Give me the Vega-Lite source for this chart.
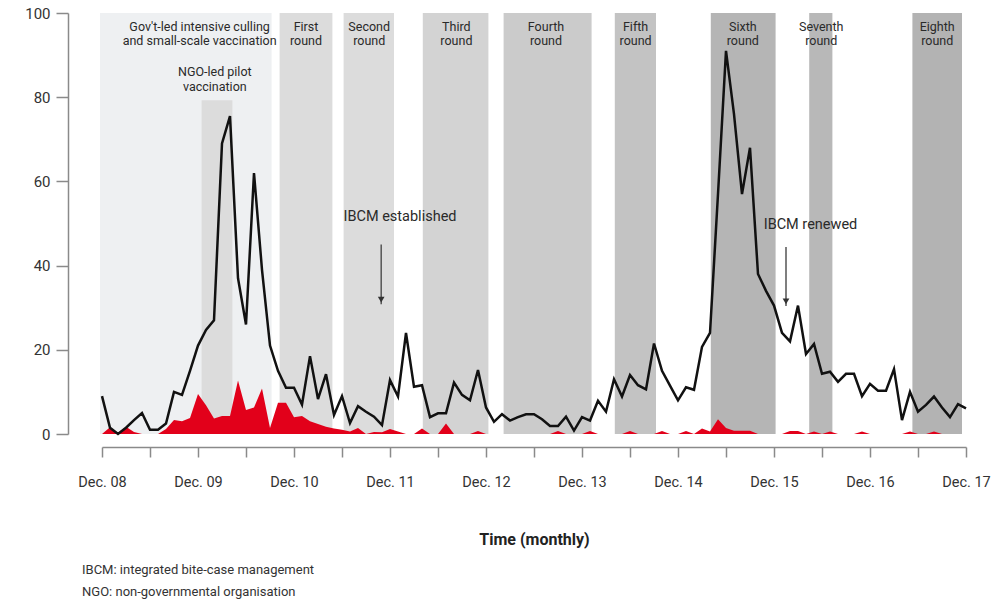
{
  "$schema": "https://vega.github.io/schema/vega-lite/v6.json",
  "width": 864,
  "height": 421,
  "autosize": {"type": "none"},
  "padding": {"left": 102, "top": 13, "right": 37, "bottom": 166},
  "background": "white",
  "title": {
    "text": ["IBCM: integrated bite-case management", "NGO:  non-governmental organisation"],
    "orient": "bottom",
    "anchor": "start",
    "frame": "group",
    "dx": -20,
    "offset": 16,
    "fontSize": 13,
    "fontWeight": "normal",
    "color": "#333333",
    "lineHeight": 22,
    "font": "Roboto, sans-serif"
  },
  "config": {
    "view": {"stroke": null},
    "font": "Roboto, sans-serif"
  },
  "datasets": {
    "series": [
      {"m": 0, "dogs": 9, "humans": 0},
      {"m": 1, "dogs": 1.5, "humans": 1.6},
      {"m": 2, "dogs": 0, "humans": 0.3},
      {"m": 3, "dogs": 1.5, "humans": 1.7},
      {"m": 4, "dogs": 3.3, "humans": 0.5},
      {"m": 5, "dogs": 5, "humans": 0},
      {"m": 6, "dogs": 1, "humans": 0},
      {"m": 7, "dogs": 1, "humans": 0},
      {"m": 8, "dogs": 2.5, "humans": 1.2},
      {"m": 9, "dogs": 10, "humans": 3.3},
      {"m": 10, "dogs": 9.3, "humans": 3},
      {"m": 11, "dogs": 15, "humans": 3.8},
      {"m": 12, "dogs": 21, "humans": 9.5},
      {"m": 13, "dogs": 24.7, "humans": 6.8},
      {"m": 14, "dogs": 27, "humans": 3.7},
      {"m": 15, "dogs": 69, "humans": 4.3},
      {"m": 16, "dogs": 75.5, "humans": 4.3},
      {"m": 17, "dogs": 37, "humans": 12.7},
      {"m": 18, "dogs": 26, "humans": 5.7},
      {"m": 19, "dogs": 62, "humans": 6.3},
      {"m": 20, "dogs": 39, "humans": 10.8},
      {"m": 21, "dogs": 21, "humans": 1.4},
      {"m": 22, "dogs": 15, "humans": 7.4},
      {"m": 23, "dogs": 11, "humans": 7.4},
      {"m": 24, "dogs": 11, "humans": 4},
      {"m": 25, "dogs": 7, "humans": 4.3},
      {"m": 26, "dogs": 18.5, "humans": 3},
      {"m": 27, "dogs": 8.3, "humans": 2.4},
      {"m": 28, "dogs": 14.2, "humans": 1.7},
      {"m": 29, "dogs": 4.5, "humans": 1.3},
      {"m": 30, "dogs": 9, "humans": 1},
      {"m": 31, "dogs": 2.6, "humans": 0.6},
      {"m": 32, "dogs": 6.6, "humans": 1.4},
      {"m": 33, "dogs": 5.3, "humans": 0},
      {"m": 34, "dogs": 4.1, "humans": 0.5},
      {"m": 35, "dogs": 2.1, "humans": 0.4},
      {"m": 36, "dogs": 12.8, "humans": 1.2},
      {"m": 37, "dogs": 8.9, "humans": 0.6},
      {"m": 38, "dogs": 24, "humans": 0},
      {"m": 39, "dogs": 11.2, "humans": 0},
      {"m": 40, "dogs": 11.6, "humans": 1.3},
      {"m": 41, "dogs": 4, "humans": 0},
      {"m": 42, "dogs": 4.9, "humans": 0},
      {"m": 43, "dogs": 4.9, "humans": 2.5},
      {"m": 44, "dogs": 12.2, "humans": 0},
      {"m": 45, "dogs": 9.3, "humans": 0},
      {"m": 46, "dogs": 8, "humans": 0},
      {"m": 47, "dogs": 15.2, "humans": 0.7},
      {"m": 48, "dogs": 6.3, "humans": 0},
      {"m": 49, "dogs": 2.9, "humans": 0},
      {"m": 50, "dogs": 4.7, "humans": 0},
      {"m": 51, "dogs": 3.2, "humans": 0},
      {"m": 52, "dogs": 4, "humans": 0},
      {"m": 53, "dogs": 4.7, "humans": 0},
      {"m": 54, "dogs": 4.7, "humans": 0},
      {"m": 55, "dogs": 3.5, "humans": 0},
      {"m": 56, "dogs": 1.9, "humans": 0},
      {"m": 57, "dogs": 1.9, "humans": 0.7},
      {"m": 58, "dogs": 4.1, "humans": 0},
      {"m": 59, "dogs": 0.8, "humans": 0},
      {"m": 60, "dogs": 4, "humans": 0},
      {"m": 61, "dogs": 3.2, "humans": 0.7},
      {"m": 62, "dogs": 7.9, "humans": 0},
      {"m": 63, "dogs": 5.3, "humans": 0},
      {"m": 64, "dogs": 13, "humans": 0},
      {"m": 65, "dogs": 8.9, "humans": 0},
      {"m": 66, "dogs": 14, "humans": 0.7},
      {"m": 67, "dogs": 11.6, "humans": 0},
      {"m": 68, "dogs": 10.6, "humans": 0},
      {"m": 69, "dogs": 21.5, "humans": 0},
      {"m": 70, "dogs": 15, "humans": 0.7},
      {"m": 71, "dogs": 11.5, "humans": 0},
      {"m": 72, "dogs": 8, "humans": 0},
      {"m": 73, "dogs": 11.1, "humans": 0.7},
      {"m": 74, "dogs": 10.5, "humans": 0},
      {"m": 75, "dogs": 20.7, "humans": 1.3},
      {"m": 76, "dogs": 24, "humans": 0.6},
      {"m": 77, "dogs": 57, "humans": 3.5},
      {"m": 78, "dogs": 91, "humans": 1.4},
      {"m": 79, "dogs": 76, "humans": 0.8},
      {"m": 80, "dogs": 57, "humans": 0.8},
      {"m": 81, "dogs": 68, "humans": 0.8},
      {"m": 82, "dogs": 38, "humans": 0},
      {"m": 83, "dogs": 34, "humans": 0},
      {"m": 84, "dogs": 30.5, "humans": 0},
      {"m": 85, "dogs": 24, "humans": 0},
      {"m": 86, "dogs": 22, "humans": 0.7},
      {"m": 87, "dogs": 30.5, "humans": 0.7},
      {"m": 88, "dogs": 19, "humans": 0},
      {"m": 89, "dogs": 21.4, "humans": 0.6},
      {"m": 90, "dogs": 14.3, "humans": 0},
      {"m": 91, "dogs": 14.8, "humans": 0.6},
      {"m": 92, "dogs": 12.4, "humans": 0},
      {"m": 93, "dogs": 14.3, "humans": 0},
      {"m": 94, "dogs": 14.3, "humans": 0},
      {"m": 95, "dogs": 9, "humans": 0.6},
      {"m": 96, "dogs": 11.9, "humans": 0},
      {"m": 97, "dogs": 10.3, "humans": 0},
      {"m": 98, "dogs": 10.3, "humans": 0},
      {"m": 99, "dogs": 15.4, "humans": 0},
      {"m": 100, "dogs": 3.3, "humans": 0},
      {"m": 101, "dogs": 10, "humans": 0.6},
      {"m": 102, "dogs": 5.3, "humans": 0},
      {"m": 103, "dogs": 6.9, "humans": 0},
      {"m": 104, "dogs": 8.9, "humans": 0.6},
      {"m": 105, "dogs": 6.3, "humans": 0},
      {"m": 106, "dogs": 4, "humans": 0},
      {"m": 107, "dogs": 7.1, "humans": 0},
      {"m": 108, "dogs": 6.1, "humans": 0}
    ],
    "bands": [
      {"band": "Gov't-led", "start": -0.25, "end": 21.2},
      {"band": "First", "start": 22.2, "end": 28.8},
      {"band": "Second", "start": 30.2, "end": 36.5},
      {"band": "Third", "start": 40.1, "end": 48.3},
      {"band": "Fourth", "start": 50.2, "end": 61.2},
      {"band": "Fifth", "start": 64.1, "end": 69.25},
      {"band": "Sixth", "start": 76.1, "end": 84.2},
      {"band": "Seventh", "start": 88.4, "end": 91.3},
      {"band": "Eighth", "start": 101.3, "end": 107.5}
    ],
    "ngo": [
      {"band": "NGO-led pilot", "start": 12.45, "end": 16.3}
    ],
    "labels": [
      {"m": 12.2, "text": "Gov't-led intensive culling\nand small-scale vaccination"},
      {"m": 25.5, "text": "First\nround"},
      {"m": 33.4, "text": "Second\nround"},
      {"m": 44.3, "text": "Third\nround"},
      {"m": 55.5, "text": "Fourth\nround"},
      {"m": 66.7, "text": "Fifth\nround"},
      {"m": 80.1, "text": "Sixth\nround"},
      {"m": 89.9, "text": "Seventh\nround"},
      {"m": 104.4, "text": "Eighth\nround"}
    ],
    "ngolabel": [
      {"m": 14.1, "text": "NGO-led pilot\nvaccination"}
    ],
    "events": [
      {"m": 37.25, "label_y": 51.5, "arrow_x": 34.9, "from": 45, "to": 30.8, "head": 31.9, "text": "IBCM established"},
      {"m": 88.56, "label_y": 49.6, "arrow_x": 85.5, "from": 44.4, "to": 30.4, "head": 31.5, "text": "IBCM renewed"}
    ]
  },
  "layer": [
    {
      "data": {"name": "bands"},
      "mark": {"type": "rect"},
      "encoding": {
        "x": {
          "field": "start", "type": "quantitative",
          "scale": {"domain": [0, 108], "nice": false, "zero": false},
          "axis": {
            "orient": "bottom",
            "values": [0, 3, 6, 9, 12, 15, 18, 21, 24, 27, 30, 33, 36, 39, 42, 45, 48, 51, 54, 57, 60, 63, 66, 69, 72, 75, 78, 81, 84, 87, 90, 93, 96, 99, 102, 105, 108],
            "tickSize": 10, "offset": 13, "grid": false,
            "labelExpr": "datum.value % 12 === 0 ? 'Dec. ' + ((datum.value / 12 + 8) < 10 ? '0' : '') + (datum.value / 12 + 8) : ''",
            "labelOverlap": false, "labelFlush": false,
            "labelFontSize": 14.5, "labelColor": "#333333", "labelPadding": 18,
            "domainColor": "#8a8a8a", "domainWidth": 1.5, "tickColor": "#8a8a8a", "tickWidth": 1.5,
            "title": "Time (monthly)", "titleFontSize": 16, "titleFontWeight": "bold", "titleColor": "#222222", "titlePadding": 43,
            "encode": {"ticks": {"update": {"y2": {"signal": "datum.value % 12 === 0 ? 20 : 10"}}}}
          }
        },
        "x2": {"field": "end"},
        "y": {"datum": 0, "type": "quantitative", "scale": {"domain": [0, 100], "nice": false}},
        "y2": {"datum": 100},
        "color": {
          "field": "band", "type": "nominal", "legend": null,
          "scale": {
            "domain": ["Gov't-led", "First", "Second", "Third", "Fourth", "Fifth", "Sixth", "Seventh", "Eighth"],
            "range": ["#eef0f2", "#dcdcdc", "#dcdcdc", "#d3d3d3", "#cbcbcb", "#c3c3c3", "#b5b5b5", "#b8b8b8", "#b3b3b3"]
          }
        }
      }
    },
    {
      "data": {"name": "ngo"},
      "mark": {"type": "rect", "color": "#dcdcdc"},
      "encoding": {
        "x": {"field": "start", "type": "quantitative"},
        "x2": {"field": "end"},
        "y": {"datum": 0, "type": "quantitative"},
        "y2": {"datum": 79.3}
      }
    },
    {
      "data": {"name": "series"},
      "mark": {"type": "area", "color": "#e2001a", "interpolate": "linear"},
      "encoding": {
        "x": {"field": "m", "type": "quantitative"},
        "y": {"field": "humans", "type": "quantitative"}
      }
    },
    {
      "data": {"name": "series"},
      "mark": {"type": "line", "color": "#111111", "strokeWidth": 2.5, "interpolate": "linear"},
      "encoding": {
        "x": {"field": "m", "type": "quantitative"},
        "y": {
          "field": "dogs", "type": "quantitative",
          "axis": {
            "orient": "left",
            "values": [0, 20, 40, 60, 80, 100],
            "tickSize": 12, "offset": 34, "grid": false, "title": null,
            "labelFontSize": 15, "labelColor": "#333333", "labelPadding": 6,
            "domainColor": "#8a8a8a", "domainWidth": 1.5, "tickColor": "#8a8a8a", "tickWidth": 1.5
          }
        }
      }
    },
    {
      "data": {"name": "labels"},
      "mark": {"type": "text", "baseline": "top", "align": "center", "lineBreak": "\n", "fontSize": 12.5, "lineHeight": 14.5, "color": "#2a2a2a"},
      "encoding": {
        "x": {"field": "m", "type": "quantitative"},
        "y": {"datum": 98.2, "type": "quantitative"},
        "text": {"field": "text"}
      }
    },
    {
      "data": {"name": "ngolabel"},
      "mark": {"type": "text", "baseline": "top", "align": "center", "lineBreak": "\n", "fontSize": 12.5, "lineHeight": 14.5, "color": "#2a2a2a"},
      "encoding": {
        "x": {"field": "m", "type": "quantitative"},
        "y": {"datum": 87.3, "type": "quantitative"},
        "text": {"field": "text"}
      }
    },
    {
      "data": {"name": "events"},
      "mark": {"type": "text", "baseline": "middle", "align": "center", "fontSize": 14.5, "color": "#2a2a2a"},
      "encoding": {
        "x": {"field": "m", "type": "quantitative"},
        "y": {"field": "label_y", "type": "quantitative"},
        "text": {"field": "text"}
      }
    },
    {
      "data": {"name": "events"},
      "mark": {"type": "rule", "color": "#555555", "strokeWidth": 1.5},
      "encoding": {
        "x": {"field": "arrow_x", "type": "quantitative"},
        "y": {"field": "from", "type": "quantitative"},
        "y2": {"field": "to"}
      }
    },
    {
      "data": {"name": "events"},
      "mark": {"type": "point", "shape": "triangle-down", "filled": true, "color": "#333333", "size": 45, "opacity": 1},
      "encoding": {
        "x": {"field": "arrow_x", "type": "quantitative"},
        "y": {"field": "head", "type": "quantitative"}
      }
    }
  ]
}
